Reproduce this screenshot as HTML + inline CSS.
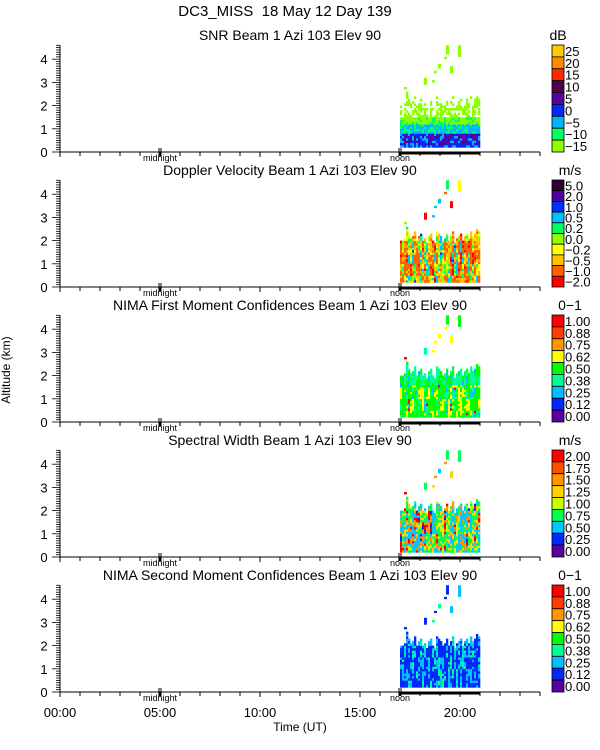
<!DOCTYPE html>
<html><head><meta charset="utf-8">
<style>
html,body{margin:0;padding:0;background:#fff;}
svg{display:block;font-family:"Liberation Sans",sans-serif;}
</style></head>
<body>
<svg id="chart" width="600" height="750" viewBox="0 0 600 750" xmlns="http://www.w3.org/2000/svg">
<text x="285" y="16" font-size="15" text-anchor="middle" xml:space="preserve">DC3_MISS  18 May 12 Day 139</text>
<text x="10" y="370" font-size="12" text-anchor="middle" transform="rotate(-90 10 370)">Altitude (km)</text>
<text x="300" y="731" font-size="12" text-anchor="middle">Time (UT)</text>
<g id="panels"></g>
</svg>
<script>
// ---- data ----
const timeStart = 17.0, timeStep = 0.1;
const cloudTopKm = [2.0,2.0,2.1,2.6,2.3,2.1,2.2,2.4,2.0,2.2,2.3,2.0,2.1,1.9,2.2,2.3,2.0,1.9,2.4,2.3,2.2,2.0,2.1,2.3,2.0,2.2,2.4,1.9,2.1,2.2,2.3,2.0,2.2,2.3,2.1,2.4,2.2,2.3,2.5,2.4];
const gateKm = 0.1, baseKm = 0.2;
const highEchoes = [[18.2,2.9,3.2],[18.7,3.4,3.5],[18.9,3.6,3.8],[19.2,4.0,4.1],[19.3,4.2,4.6],[19.5,3.4,3.7],[19.9,4.1,4.6],[18.6,3.0,3.1],[17.2,2.7,2.8]];
const timeTicks = ["00:00","05:00","10:00","15:00","20:00"];
const timeTickHours = [0,5,10,15,20];
const altTicks = [0,1,2,3,4];
const snrLabels = ["25","20","15","10","5","0","\u22125","\u221210","\u221215"];
const snrColors = ["#ffc800","#ff8c00","#ff2800","#500050","#5a00a0","#0028ff","#00b4ff","#00ff64","#8cff00"];
const velLabels = ["5.0","2.0","1.0","0.5","0.2","0.0","\u22120.2","\u22120.5","\u22121.0","\u22122.0"];
const velColors = ["#300030","#5000a0","#0030ff","#00c0ff","#00ff60","#90ff00","#ffff00","#ffc000","#ff6000","#ff0000"];
const confLabels = ["1.00","0.88","0.75","0.62","0.50","0.38","0.25","0.12","0.00"];
const confColors = ["#ff0000","#ff3c00","#ff9600","#ffff00","#00ff00","#00ff96","#00c0ff","#0028ff","#5a00a0"];
const swLabels = ["2.00","1.75","1.50","1.25","1.00","0.75","0.50","0.25","0.00"];
const swColors = ["#ff0000","#ff5000","#ff9600","#ffd200","#c8ff00","#00ff50","#00c8ff","#0028ff","#5a00a0"];
const titles = ["SNR Beam 1 Azi 103 Elev 90","Doppler Velocity Beam 1 Azi 103 Elev 90","NIMA First Moment Confidences Beam 1 Azi 103 Elev 90","Spectral Width Beam 1 Azi 103 Elev 90","NIMA Second Moment Confidences Beam 1 Azi 103 Elev 90"];
const units = ["dB","m/s","0\u22121","m/s","0\u22121"];

// ---- scales ----
const x0 = 60, pxPerHour = 20, pxPerKm = 23.2, panelGap = 135, axis0 = 152;
function xs(h){return x0 + h*pxPerHour;}
function ys(p,km){return axis0 + p*panelGap - km*pxPerKm;}
function hsh(a,b,c){let n=(a*374761393+b*668265263+c*2147483647)|0;n=(n^(n>>>13))*1274126177|0;return ((n^(n>>>16))>>>0)/4294967295;}

function colorIdx(p,ti,hk,r){
  if(p===0){ if(hk>1.5) return r<0.55?8:null; if(hk>1.1) return r<0.7?8:7; if(hk>0.75) return r<0.6?6:7; if(hk>0.3) return r<0.45?4:(r<0.8?5:6); return r<0.5?6:5; }
  if(p===1){ const v=[9,9,8,8,8,7,7,6,5,4,3,3,2]; return v[Math.floor(r*v.length)]; }
  if(p===2){ if(hk>1.6) return r<0.5?5:(r<0.8?4:6); const v=[3,3,3,4,4,4,5,6,0]; return v[Math.floor(r*v.length)]; }
  if(p===3){ const v=[4,4,5,5,3,6,6,2,0,7]; return v[Math.floor(r*v.length)]; }
  const v=[7,7,7,7,6,6,5,7]; return v[Math.floor(r*v.length)];
}
const colorSets=[snrColors,velColors,confColors,swColors,confColors];
const labelSets=[snrLabels,velLabels,confLabels,swLabels,confLabels];
const NS="http://www.w3.org/2000/svg";
const root=document.getElementById('panels');
function mk(tag,attrs,parent){const e=document.createElementNS(NS,tag);for(const k in attrs)e.setAttribute(k,attrs[k]);(parent||root).appendChild(e);return e;}

for(let p=0;p<5;p++){
  const g=mk('g',{});
  
  
  const t=mk('text',{x:290,y:ys(p,0)-112,'font-size':14,'text-anchor':'middle'},g);t.textContent=titles[p];
  
  
  const u=mk('text',{x:p===0?558:570,y:ys(p,0)-112,'font-size':14,'text-anchor':'middle'},g);u.textContent=units[p];
  
  
  const cells=mk('g',{},g);
  
  
  const cols=colorSets[p];
  for(let ti=0;ti<cloudTopKm.length;ti++){
    const t0=timeStart+ti*timeStep;
    for(let hk=baseKm;hk<cloudTopKm[ti]-1e-6;hk+=gateKm){
      const gi=Math.round(hk*10);
      const r=(p===0)?hsh(ti,gi,p+1):(0.7*hsh(ti,Math.floor(gi/5),p+1)+0.3*hsh(ti,gi,p+11));
      const ci=colorIdx(p,ti,hk,Math.min(0.999,r));
      if(ci===null)continue;
      const rc=mk('rect',{x:xs(t0),y:ys(p,hk+gateKm),width:pxPerHour*timeStep+0.3,height:pxPerKm*gateKm+0.3,fill:cols[ci]},cells);
      
      
    }
  }
  for(const e of highEchoes){
    const r=hsh(Math.round(e[0]*10),Math.round(e[1]*10),p+7);
    const ci=p===0?8:colorIdx(p,0,1.0,r);
    const rc=mk('rect',{x:xs(e[0]),y:ys(p,e[2]),width:3,height:(e[2]-e[1])*pxPerKm,fill:cols[ci]},cells);
    
    
  }
  const ay=ys(p,0);
  mk('line',{x1:x0,y1:ay,x2:xs(24),y2:ay,stroke:'#000','stroke-width':1},g);
  mk('line',{x1:x0,y1:ys(p,4.6),x2:x0,y2:ay,stroke:'#000','stroke-width':1},g);
  mk('line',{x1:xs(17),y1:ay+1,x2:xs(21),y2:ay+1,stroke:'#000','stroke-width':3},g);
  for(let h=0;h<=24;h++) mk('line',{x1:xs(h),y1:ay,x2:xs(h),y2:ay+(h%5===0?5:4),stroke:'#000'},g);
  for(let i=0;i<=46;i++){const km=i/10;mk('line',{x1:x0-(i%10===0?8:4),y1:ys(p,km),x2:x0,y2:ys(p,km),stroke:'#000','stroke-width':0.8},g);}
  for(const a of altTicks){const tx=mk('text',{x:44,y:ys(p,a)+5,'font-size':13,'text-anchor':'middle'},g);tx.textContent=a;
    
    }
  for(const [h,lbl] of [[5,'midnight'],[17,'noon']]){
    mk('line',{x1:xs(h)-1,y1:ay-4,x2:xs(h)-1,y2:ay+4,stroke:'#000'},g);
    mk('line',{x1:xs(h)+1,y1:ay-4,x2:xs(h)+1,y2:ay+4,stroke:'#000'},g);
    const m=mk('text',{x:xs(h),y:ay+9,'font-size':9,'text-anchor':'middle'},g);m.textContent=lbl;
    
    
  }
  const cb=mk('g',{},g);
  
  
  const n=cols.length, top=ay-107, bh=107/n;
  for(let i=0;i<n;i++){
    mk('rect',{x:552,y:top+i*bh,width:12,height:bh,fill:cols[i],stroke:'#000','stroke-width':0.8},cb);
    const lt=mk('text',{x:565,y:top+i*bh+bh/2+5,'font-size':13},cb);lt.textContent=labelSets[p][i];
    
    
  }
}
for(let i=0;i<timeTicks.length;i++){
  const tx=mk('text',{x:xs(timeTickHours[i]),y:ys(4,0)+25,'font-size':13,'text-anchor':'middle'});
  tx.textContent=timeTicks[i];
  
  
}
</script>
</body></html>
